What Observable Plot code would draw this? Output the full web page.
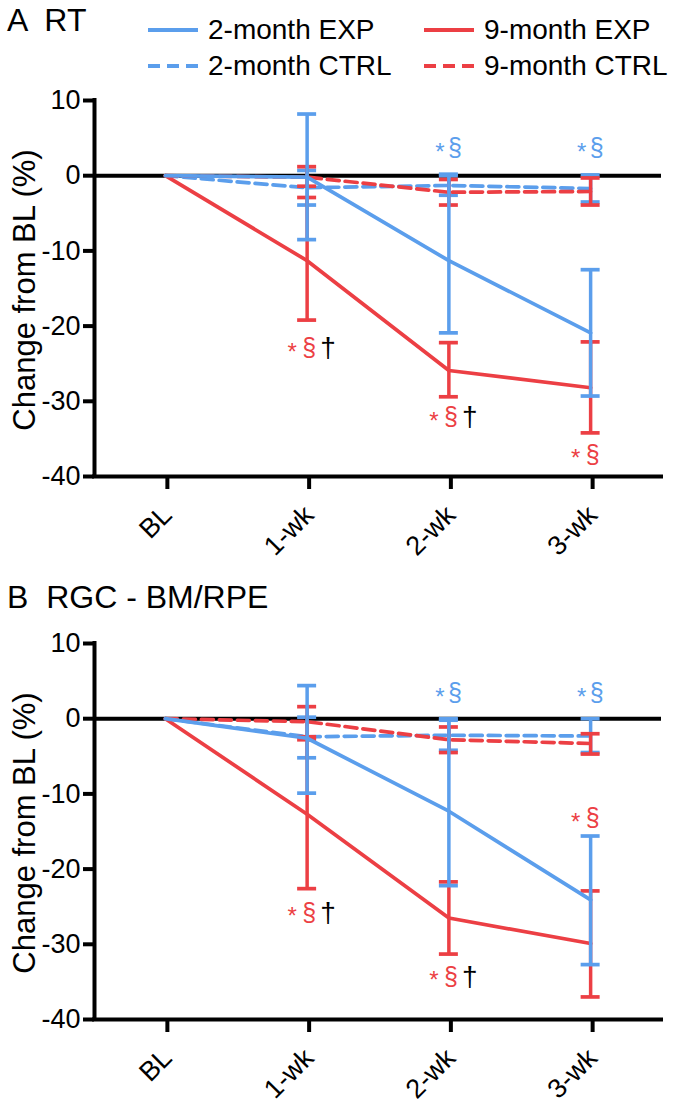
<!DOCTYPE html>
<html><head><meta charset="utf-8">
<script src="https://cdn.jsdelivr.net/npm/d3@7"></script>
<script src="https://cdn.jsdelivr.net/npm/@observablehq/plot@0.6"></script>
<style>
body{margin:0;background:#fff;}
#fig{position:relative;width:677px;height:1110px;font-family:"Liberation Sans",Arial,Helvetica,sans-serif;color:#000;overflow:hidden;background:#fff}
.ttl{position:absolute;left:7px;font-size:32px;line-height:1;white-space:pre}
.leg{position:absolute;font-size:28px;line-height:1;display:flex;align-items:center;white-space:nowrap;height:28px}
.leg svg{margin-right:10px}
.ylab{position:absolute;font-size:31px;line-height:1;white-space:nowrap;transform:translate(-50%,-50%) rotate(-90deg)}
.panel{position:absolute;left:0}
</style></head><body><div id="fig"></div>
<script>
// ---------- data ----------
const timepoints = ["BL", "1-wk", "2-wk", "3-wk"];
const seriesNames = ["2-month CTRL", "9-month CTRL", "9-month EXP", "2-month EXP"];
const yTicks = [-40, -30, -20, -10, 0, 10];

// Panel A: RT  (mean, lower end, upper end of error bar)
const rt_2mEXP_mean = [0, -0.2, -11.3, -20.9];
const rt_2mEXP_low  = [null, -8.5, -20.9, -29.3];
const rt_2mEXP_high = [null, 8.2, 0.2, -12.5];
const rt_2mCTRL_mean = [0, -1.6, -1.3, -1.7];
const rt_2mCTRL_low  = [null, -3.9, -2.6, -3.5];
const rt_2mCTRL_high = [null, 0.7, 0.0, 0.1];
const rt_9mEXP_mean = [0, -11.3, -25.9, -28.2];
const rt_9mEXP_low  = [null, -19.2, -29.4, -34.2];
const rt_9mEXP_high = [null, -2.9, -22.2, -22.1];
const rt_9mCTRL_mean = [0, -0.2, -2.2, -2.1];
const rt_9mCTRL_low  = [null, -1.4, -3.9, -3.9];
const rt_9mCTRL_high = [null, 1.2, -0.5, -0.3];

// Panel B: RGC - BM/RPE
const rgc_2mEXP_mean = [0, -2.6, -12.3, -24.1];
const rgc_2mEXP_low  = [null, -9.9, -22.2, -32.7];
const rgc_2mEXP_high = [null, 4.4, 0.0, -15.6];
const rgc_2mCTRL_mean = [0, -2.4, -2.2, -2.3];
const rgc_2mCTRL_low  = [null, -5.2, -4.2, -4.5];
const rgc_2mCTRL_high = [null, 0.2, -0.2, 0.0];
const rgc_9mEXP_mean = [0, -12.7, -26.5, -29.9];
const rgc_9mEXP_low  = [null, -22.6, -31.3, -37.0];
const rgc_9mEXP_high = [null, -2.8, -21.7, -22.9];
const rgc_9mCTRL_mean = [0, -0.4, -2.8, -3.3];
const rgc_9mCTRL_low  = [null, -2.4, -4.5, -4.7];
const rgc_9mCTRL_high = [null, 1.6, -1.1, -2.0];

// significance markers (time point, y position of the label, group, dagger)
const rt_sig = [
  {time: "2-wk", y: 3.7, group: "2-month", dagger: false},
  {time: "3-wk", y: 3.7, group: "2-month", dagger: false},
  {time: "1-wk", y: -22.9, group: "9-month", dagger: true},
  {time: "2-wk", y: -32.1, group: "9-month", dagger: true},
  {time: "3-wk", y: -37.1, group: "9-month", dagger: false}
];
const rgc_sig = [
  {time: "2-wk", y: 3.4, group: "2-month", dagger: false},
  {time: "3-wk", y: 3.4, group: "2-month", dagger: false},
  {time: "1-wk", y: -25.8, group: "9-month", dagger: true},
  {time: "2-wk", y: -34.3, group: "9-month", dagger: true},
  {time: "3-wk", y: -13.2, group: "9-month", dagger: false}
];

// ---------- styles ----------
const BLUE = "#5b9eec";
const RED = "#ec3f44";
const styleOf = {
  "2-month EXP":  {color: BLUE, dash: null},
  "2-month CTRL": {color: BLUE, dash: "12,6"},
  "9-month EXP":  {color: RED, dash: null},
  "9-month CTRL": {color: RED, dash: "12,6"}
};

function rowsFor(means, lows, highs) {
  const out = [];
  seriesNames.forEach(s => {
    timepoints.forEach((t, i) => {
      out.push({series: s, time: t, i, mean: means[s][i], low: lows[s][i], high: highs[s][i]});
    });
  });
  return out;
}

const rtRows = rowsFor(
  {"2-month EXP": rt_2mEXP_mean, "2-month CTRL": rt_2mCTRL_mean, "9-month EXP": rt_9mEXP_mean, "9-month CTRL": rt_9mCTRL_mean},
  {"2-month EXP": rt_2mEXP_low, "2-month CTRL": rt_2mCTRL_low, "9-month EXP": rt_9mEXP_low, "9-month CTRL": rt_9mCTRL_low},
  {"2-month EXP": rt_2mEXP_high, "2-month CTRL": rt_2mCTRL_high, "9-month EXP": rt_9mEXP_high, "9-month CTRL": rt_9mCTRL_high}
);
const rgcRows = rowsFor(
  {"2-month EXP": rgc_2mEXP_mean, "2-month CTRL": rgc_2mCTRL_mean, "9-month EXP": rgc_9mEXP_mean, "9-month CTRL": rgc_9mCTRL_mean},
  {"2-month EXP": rgc_2mEXP_low, "2-month CTRL": rgc_2mCTRL_low, "9-month EXP": rgc_9mEXP_low, "9-month CTRL": rgc_9mCTRL_low},
  {"2-month EXP": rgc_2mEXP_high, "2-month CTRL": rgc_2mCTRL_high, "9-month EXP": rgc_9mEXP_high, "9-month CTRL": rgc_9mCTRL_high}
);

function panel(rows, sig) {
  const marks = [
    Plot.ruleY([0], {stroke: "#000", strokeWidth: 4}),
    Plot.ruleX([-0.5], {stroke: "#000", strokeWidth: 4, strokeLinecap: "square"}),
    Plot.ruleY([-40], {stroke: "#000", strokeWidth: 4, strokeLinecap: "square"}),
    Plot.axisY({ticks: yTicks, tickFormat: d => String(d), tickSize: 11, tickPadding: 3, strokeWidth: 4, label: null, fontSize: 27}),
    Plot.axisX({ticks: [0, 1, 2, 3], tickFormat: i => timepoints[i], tickSize: 13, tickPadding: 21, dx: 2, tickRotate: -45, strokeWidth: 4, label: null, fontSize: 27})
  ];
  seriesNames.forEach(s => {
    const st = styleOf[s];
    const d = rows.filter(r => r.series === s);
    const e = d.filter(r => r.low != null);
    marks.push(Plot.line(d, {x: "i", y: "mean", stroke: st.color, strokeWidth: 3.7, strokeDasharray: st.dash}));
    marks.push(Plot.ruleX(e, {x: "i", y1: "low", y2: "high", stroke: st.color, strokeWidth: 3.5}));
    marks.push(Plot.ruleY(e, {x1: "i", x2: "i", y: "low", stroke: st.color, strokeWidth: 3.7, insetLeft: -9.5, insetRight: -9.5}));
    marks.push(Plot.ruleY(e, {x1: "i", x2: "i", y: "high", stroke: st.color, strokeWidth: 3.7, insetLeft: -9.5, insetRight: -9.5}));
  });
  const sx = d => timepoints.indexOf(d.time);
  const blueSig = sig.filter(d => d.group === "2-month");
  const redSig = sig.filter(d => d.group === "9-month");
  marks.push(Plot.text(blueSig, {x: sx, y: "y", text: () => "*", fill: BLUE, fontSize: 24, dx: -9, dy: 4}));
  marks.push(Plot.text(blueSig, {x: sx, y: "y", text: () => "§", fill: BLUE, fontSize: 25, dx: 6}));
  marks.push(Plot.text(redSig, {x: sx, y: "y", text: () => "*", fill: RED, fontSize: 24, dx: -15, dy: 4}));
  marks.push(Plot.text(redSig, {x: sx, y: "y", text: () => "§", fill: RED, fontSize: 25, dx: 2}));
  marks.push(Plot.text(redSig.filter(d => d.dagger), {x: sx, y: "y", text: () => "†", fill: "#000", fontSize: 28, dx: 21}));
  return Plot.plot({
    width: 677, height: 507,
    marginLeft: 94, marginRight: 16, marginTop: 40, marginBottom: 91,
    style: {fontFamily: "'Liberation Sans', Arial, Helvetica, sans-serif", fontSize: "27px", color: "#000", background: "transparent", overflow: "visible"},
    x: {type: "linear", domain: [-0.5, 3.5], axis: null},
    y: {type: "linear", domain: [-40, 10], axis: null},
    marks
  });
}

const fig = document.getElementById("fig");
function addDiv(cls, text, css) {
  const el = document.createElement("div");
  el.className = cls;
  el.textContent = text;
  Object.assign(el.style, css);
  fig.appendChild(el);
  return el;
}

// Panel A
addDiv("ttl", "A  RT", {top: "4px"});
const pA = panel(rtRows, rt_sig);
pA.classList.add("panel"); pA.style.top = "60px";
fig.appendChild(pA);
addDiv("ylab", "Change from BL (%)", {left: "24px", top: "290px"});

// legend
const legendItems = [
  {name: "2-month EXP", left: 148, top: 16},
  {name: "2-month CTRL", left: 148, top: 52},
  {name: "9-month EXP", left: 424, top: 16},
  {name: "9-month CTRL", left: 424, top: 52}
];
legendItems.forEach(it => {
  const st = styleOf[it.name];
  const el = document.createElement("div");
  el.className = "leg";
  el.style.left = it.left + "px";
  el.style.top = it.top + "px";
  const ns = "http://www.w3.org/2000/svg";
  const sv = document.createElementNS(ns, "svg");
  sv.setAttribute("width", 50); sv.setAttribute("height", 8);
  const ln = document.createElementNS(ns, "line");
  ln.setAttribute("x1", 0); ln.setAttribute("x2", 50); ln.setAttribute("y1", 4); ln.setAttribute("y2", 4);
  ln.setAttribute("stroke", st.color); ln.setAttribute("stroke-width", 4);
  if (st.dash) ln.setAttribute("stroke-dasharray", "12,7");
  sv.appendChild(ln);
  el.appendChild(sv);
  const tx = document.createElement("span");
  tx.textContent = it.name;
  el.appendChild(tx);
  fig.appendChild(el);
});

// Panel B
addDiv("ttl", "B  RGC - BM/RPE", {top: "581px"});
const pB = panel(rgcRows, rgc_sig);
pB.classList.add("panel"); pB.style.top = "603px";
fig.appendChild(pB);
addDiv("ylab", "Change from BL (%)", {left: "24px", top: "833px"});
</script></body></html>
